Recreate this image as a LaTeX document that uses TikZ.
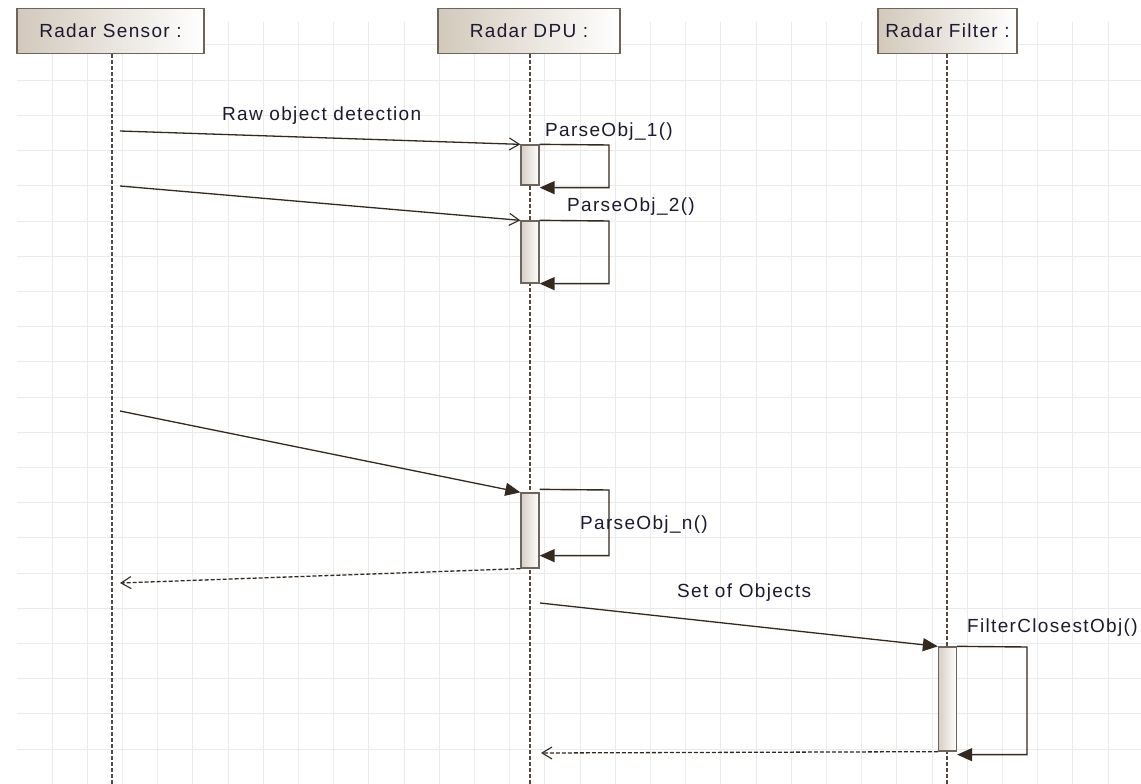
\documentclass[tikz,border=0pt]{standalone}
\usepackage{fontspec}
\setmainfont{Liberation Sans}[LetterSpace=7]
\usetikzlibrary{arrows.meta}
\definecolor{gridc}{HTML}{EBEBEB}
\definecolor{linec}{HTML}{33291F}
\definecolor{boxb}{HTML}{6E645C}
\definecolor{boxl}{HTML}{D2C9BB}
\definecolor{actl}{HTML}{D6CEC4}
\definecolor{txtc}{HTML}{1C1A30}
\begin{document}
\begin{tikzpicture}[x=1pt,y=-1pt,
  font=\fontsize{19}{21}\selectfont, text=txtc,
  hdr/.style={draw=boxb, line width=1.5pt, left color=boxl, right color=white,
    minimum height=45pt, inner sep=0pt},
  act/.style={draw=boxb, line width=1.3pt, left color=actl, right color=white,
    minimum width=18pt, inner sep=0pt},
  lifeline/.style={draw=linec!85, line width=1.2pt, dash pattern=on 4pt off 2pt},
  asyncmsg/.style={draw=linec, line width=1.3pt, -{Straight Barb[length=10pt,width=12pt,line width=1.1pt]}},
  syncmsg/.style={draw=linec, line width=1.3pt, -{Triangle[length=15pt,width=13pt]}},
  retmsg/.style={draw=linec, line width=1.3pt, dash pattern=on 4pt off 2pt, -{Straight Barb[length=10pt,width=12pt,line width=1.1pt]}},
  selfmsg/.style={draw=linec, line width=1.4pt, -{Triangle[length=15pt,width=13pt]}},
  lbl/.style={anchor=base west, inner sep=0pt}
]
\useasboundingbox (0,0) rectangle (1141,784);
\fill[white] (0,0) rectangle (1141,784);
% grid
\foreach \i in {0,...,31} \draw[gridc, line width=1pt] ({52+35.2*\i},22) -- ({52+35.2*\i},784);
\foreach \j in {0,...,21} \draw[gridc, line width=1pt] (17,{45+35.2*\j}) -- (1141,{45+35.2*\j});
% headers
\node[hdr, minimum width=187pt] (s) at (110.5,31) {Radar Sensor :};
\node[hdr, minimum width=182pt] (d) at (529,31) {Radar DPU :};
\node[hdr, minimum width=139pt] (f) at (947.5,31) {Radar Filter :};
% lifelines
\coordinate (sb) at (112,784);
\coordinate (db) at (530,784);
\coordinate (fb) at (947,784);
\draw[lifeline] (s.south -| sb) -- (sb);
\draw[lifeline] (d.south -| db) -- (db);
\draw[lifeline] (f.south -| fb) -- (fb);
% activations
\node[act, minimum height=40pt] (a1) at (530,165) {};
\node[act, minimum height=62pt] (a2) at (530,252) {};
\node[act, minimum height=75pt] (a3) at (530,530.5) {};
\node[act, minimum height=104pt] (a4) at (947.5,699) {};
% messages
\coordinate (m1) at (120,131);
\coordinate (m2) at (120,186);
\coordinate (m3) at (120,411);
\coordinate (r1) at (120,583);
\coordinate (m5) at (540,603);
\coordinate (r2) at (541,753);
\draw[asyncmsg] (m1) -- (a1.north west);
\draw[asyncmsg] (m2) -- (a2.north west);
\draw[syncmsg] (m3) -- (a3.north west);
\draw[retmsg] (a3.south west) -- (r1);
\draw[syncmsg] (m5) -- (a4.north west);
\draw[retmsg] (a4.south west) -- (r2);
% self calls
\draw[selfmsg] (a1.north east) -- (609,145) |- ([yshift=-2pt]a1.south east);
\draw[selfmsg] (a2.north east) -- (609,221) |- (a2.south east);
\draw[selfmsg] ([yshift=3pt]a3.north east) -- (609,490) |- ([yshift=13pt]a3.south east);
\draw[selfmsg] (a4.north east) -- (1027,647) |- ([yshift=-3pt]a4.south east);
% labels
\node[lbl] (l1) at (222,121) {Raw object detection};
\node[lbl] (l2) at (545,136) {ParseObj\_1()};
\node[lbl] (l3) at (567,211) {ParseObj\_2()};
\node[lbl] (l4) at (580,529) {ParseObj\_n()};
\node[lbl] (l5) at (677,597) {Set of Objects};
\node[lbl] (l6) at (967,632) {FilterClosestObj()};
\end{tikzpicture}
\end{document}
